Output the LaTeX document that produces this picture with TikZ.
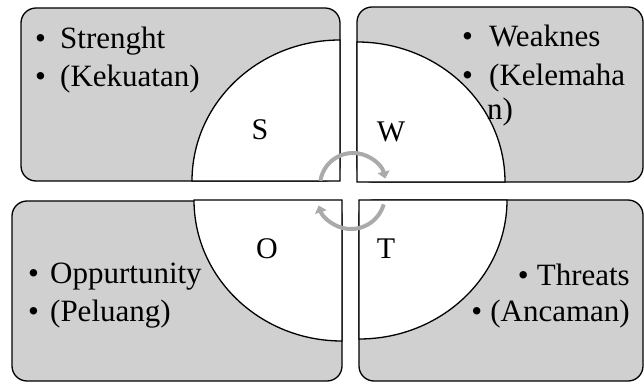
\documentclass[tikz,border=0pt]{standalone}
\usepackage{fontspec}
\setmainfont{Liberation Serif}
\usetikzlibrary{arrows.meta}
\definecolor{cBox}{RGB}{208,208,208}
\definecolor{cCycle}{RGB}{170,170,170}
\tikzset{
	quadbox/.style ={draw=black, line width=1.3pt, fill=cBox, rounded corners=15pt},
	pie/.style     ={draw=black, line width=1.3pt, fill=white},
	item/.style    ={anchor=base west, inner sep=0pt, font=\fontsize{31}{37}\selectfont},
	itemr/.style   ={anchor=base east, inner sep=0pt, font=\fontsize{31}{37}\selectfont},
	letter/.style  ={anchor=base, inner sep=0pt, font=\fontsize{30}{36}\selectfont},
	cyc/.style     ={-{Triangle[length=7pt,width=12pt]}, cCycle, line width=4pt},
}
\newcommand{\bul}[1][22pt]{\makebox[#1][l]{\textbullet}}

\begin{document}
\begin{tikzpicture}[x=1pt,y=1pt]
	\useasboundingbox (0,0) rectangle (644,383);
	% four boxes
	\draw[quadbox] (21,202) rectangle (340,375);
	\draw[quadbox] (357,201) rectangle (643,376);
	\draw[quadbox] (12,2) rectangle (342,182);
	\draw[quadbox] (359,2) rectangle (643,183);
	% quarter pies
	\draw[pie] (340,202) -- (192,202) arc[start angle=180, end angle=90, x radius=148, y radius=141] -- cycle;
	\draw[pie] (357,201) -- (357,341) arc[start angle=90, end angle=0, x radius=148, y radius=140] -- cycle;
	\draw[pie] (342,183) -- (194,183) arc[start angle=180, end angle=270, x radius=148, y radius=141] -- cycle;
	\draw[pie] (359,183) -- (507,183) arc[start angle=0, end angle=-90, x radius=148, y radius=139] -- cycle;
	% cycle arrows
	\draw[cyc] (353,197) ++(171:33) arc[start angle=171, end angle=13, radius=33];
	\draw[cyc] (351,188) ++(-16:34) arc[start angle=-16, end angle=-162, radius=34];
	% letters
	\node[letter] (lS) at (260,243) {S};
	\node[letter] (lW) at (391,241) {W};
	\node[letter] (lO) at (267,125) {O};
	\node[letter] (lT) at (386,125) {T};
	% texts
	\node[item] (s1) at (35,334) {\bul[25pt]Strenght};
	\node[item] (s2) at (35,296) {\bul[25pt](Kekuatan)};
	\node[item] (w1) at (462,336) {\bul[27pt]Weaknes};
	\node[item] (w2) at (462,297) {\bul[27pt](Kelemaha};
	\node[item] (w3) at (487,263) {n)};
	\node[item] (o1) at (28,100) {\bul Oppurtunity};
	\node[item] (o2) at (28,62) {\bul (Peluang)};
	\node[itemr] (t1) at (630,98) {\bul[19pt]Threats};
	\node[itemr] (t2) at (630,62) {\bul[19pt](Ancaman)};
\end{tikzpicture}
\end{document}
